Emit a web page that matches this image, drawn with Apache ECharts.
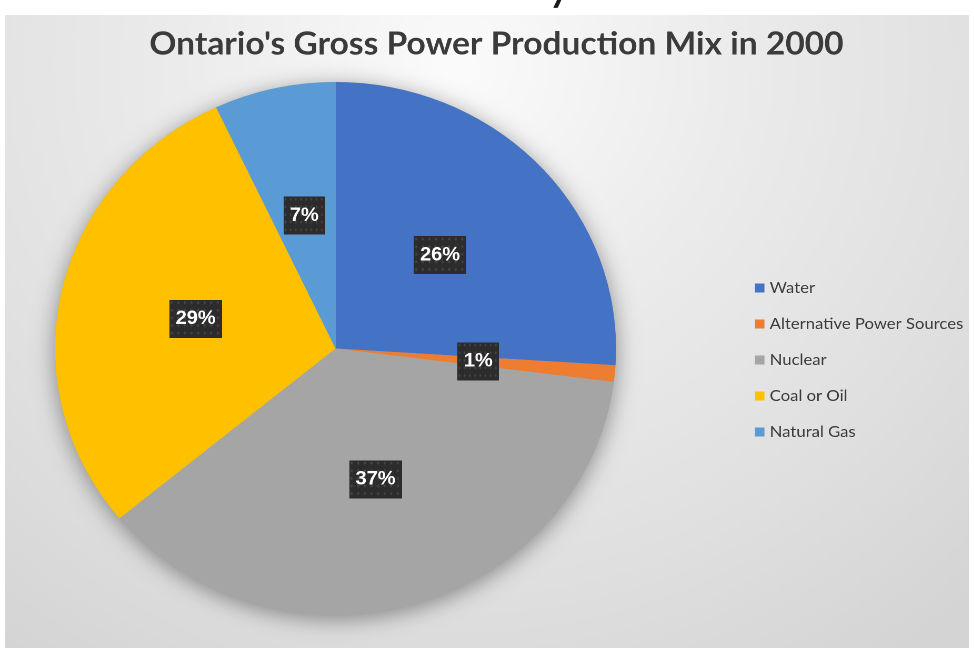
<!DOCTYPE html>
<html>
<head>
<meta charset="utf-8">
<script src="https://cdn.jsdelivr.net/npm/echarts@6/dist/echarts.min.js"></script>
<style>
html,body{margin:0;padding:0;background:#ffffff;}
#wrap{position:relative;width:974px;height:648px;overflow:hidden;background:#fff;}
#chart{position:absolute;left:0;top:0;height:648px;transform-origin:0 0;}
</style>
</head>
<body>
<div id="wrap"><div id="chart"></div></div>
<script>
// ---- data ----
const chartTitle = "Ontario's Gross Power Production Mix in 2000";
const categories = ['Water', 'Alternative Power Sources', 'Nuclear', 'Coal or Oil', 'Natural Gas'];
const shares = [26, 1, 37, 29, 7];
const sliceColors = ['#4472C4', '#ED7D31', '#A5A5A5', '#FFC000', '#5B9BD5'];

// ---- layout (horizontal stretch of the reference) ----
const SX = 1.0525;
const W = 974 / SX, H = 648;
const chartEl = document.getElementById('chart');
chartEl.style.width = W + 'px';
chartEl.style.transform = 'scaleX(' + SX + ')';

function measure(text, font) {
  const c = document.createElement('canvas').getContext('2d');
  c.font = font;
  return c.measureText(text).width;
}
const titleSize = 100 * (660 / measure(chartTitle, 'bold 100px Lato'));
const legendSize = 100 * (184 / measure('Alternative Power Sources', '100px Lato'));

// dotted dark label background
function dotted(w, h) {
  const cv = document.createElement('canvas');
  cv.width = w; cv.height = h;
  const g = cv.getContext('2d');
  g.fillStyle = '#2c2c2c';
  g.fillRect(0, 0, w, h);
  g.fillStyle = '#484848';
  for (let y = 3; y < h; y += 8) {
    for (let x = 3; x < w; x += 8) {
      g.beginPath(); g.arc(x, y, 1.4, 0, Math.PI * 2); g.fill();
    }
  }
  return cv;
}
const labelBg = dotted(64, 40);

const total = shares.reduce((a, b) => a + b, 0);
const center = [318.8, 348.5];
const radius = 266.5;

const chart = echarts.init(chartEl, null, { renderer: 'canvas', devicePixelRatio: 2 });
chart.setOption({
  animation: false,
  graphic: [
    {
      type: 'rect', z: -10, silent: true,
      shape: { x: 5 / SX, y: 15, width: (969 - 5) / SX, height: 648 - 15 },
      style: {
        fill: {
          type: 'radial', x: 0.47, y: 0.08, r: 1.15,
          colorStops: [
            { offset: 0, color: '#fbfbfb' },
            { offset: 0.35, color: '#ececec' },
            { offset: 0.7, color: '#e0e0e0' },
            { offset: 1, color: '#d4d4d4' }
          ]
        }
      }
    },
    {
      type: 'text', z: -5, silent: true,
      x: 531, y: 8,
      style: { text: 'y', font: 'bold 36px Lato', fill: '#1a1a1a', align: 'center', verticalAlign: 'bottom' }
    }
  ],
  title: {
    text: chartTitle,
    left: 471.7,
    top: 44,
    textAlign: 'center',
    textVerticalAlign: 'middle',
    padding: 0,
    textStyle: { fontFamily: 'Lato', fontWeight: 'bold', fontSize: titleSize, color: '#3b3b3b' }
  },
  legend: {
    data: categories,
    orient: 'vertical',
    left: 717.3,
    top: 279,
    padding: 0,
    itemWidth: 9,
    itemHeight: 9,
    itemGap: 18,
    icon: 'rect',
    selectedMode: false,
    textStyle: { fontFamily: 'Lato', fontSize: legendSize, color: '#3b3b3b', lineHeight: 18 }
  },
  series: [
    {
      type: 'pie', name: 'shadow', silent: true, z: 1,
      center: center, radius: radius, startAngle: 90,
      label: { show: false }, labelLine: { show: false },
      emphasis: { disabled: true },
      data: [{ name: '', value: total, itemStyle: { color: '#a5a5a5', shadowBlur: 22, shadowColor: 'rgba(0,0,0,0.4)', shadowOffsetY: 4 } }]
    },
    {
      type: 'pie', name: 'Mix', z: 2,
      center: center, radius: radius, startAngle: 90, clockwise: true,
      emphasis: { disabled: true },
      itemStyle: { borderWidth: 0 },
      label: {
        show: true, position: 'inside',
        formatter: p => Math.round(p.percent) + '%',
        color: '#ffffff', fontFamily: 'Liberation Sans', fontWeight: 'bold', fontSize: 19,
        lineHeight: 24,
        backgroundColor: { image: labelBg },
        padding: [7, 6],
        shadowColor: 'rgba(0,0,0,0.45)', shadowBlur: 6, shadowOffsetX: 2, shadowOffsetY: 3
      },
      labelLine: { show: false },
      data: categories.map((c, i) => ({ name: c, value: shares[i], itemStyle: { color: sliceColors[i] } }))
    }
  ]
});
</script>
</body>
</html>
